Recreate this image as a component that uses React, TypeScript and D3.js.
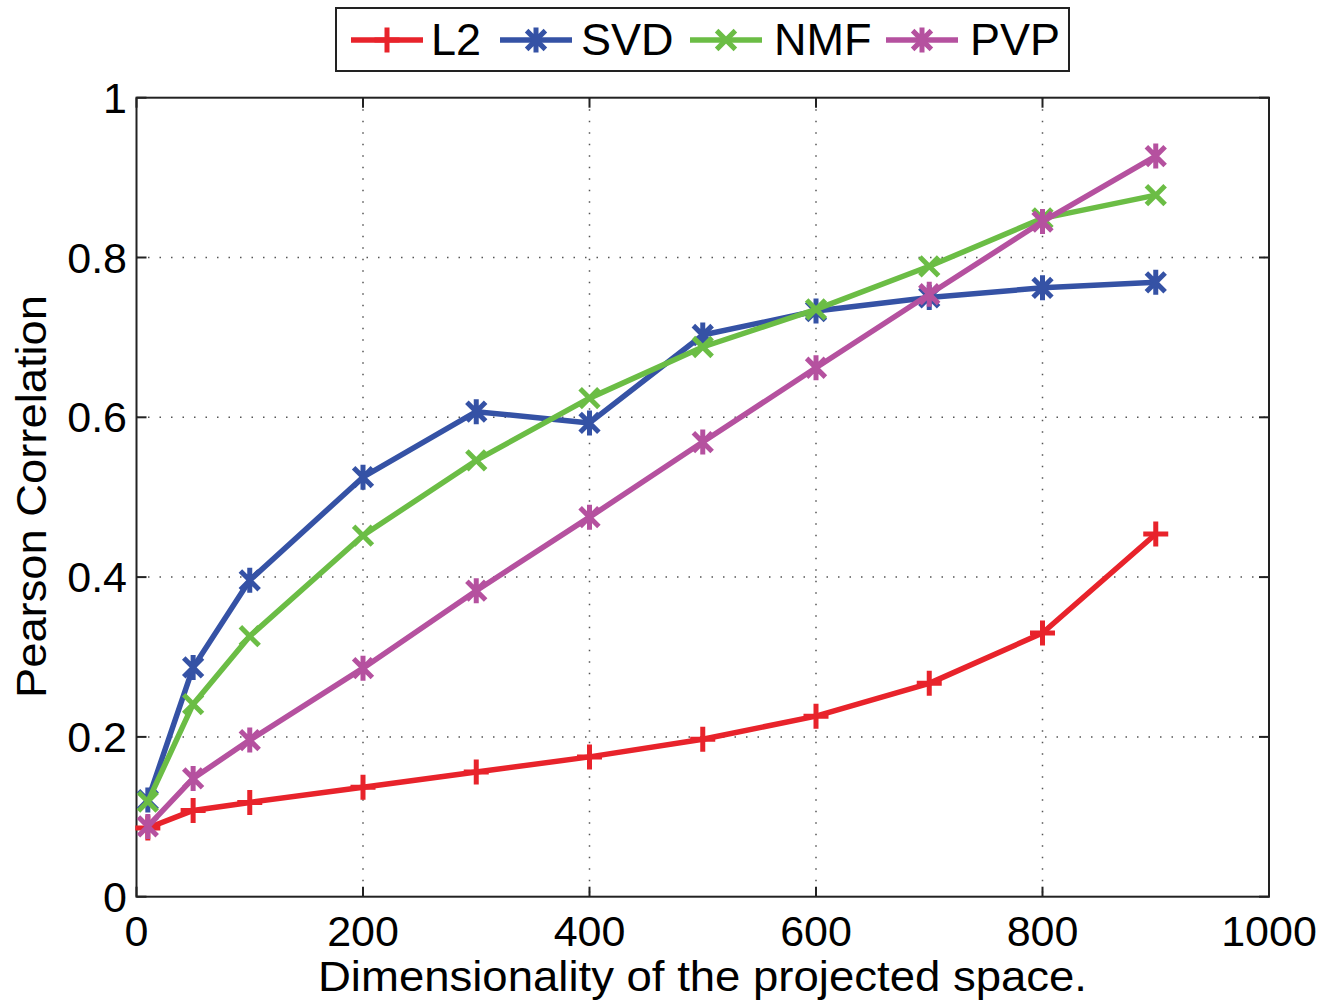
import * as React from 'react'
import * as d3 from 'd3'

const dims = [10, 50, 100, 200, 300, 400, 500, 600, 700, 800, 900]
const l2 = [0.086, 0.108, 0.118, 0.137, 0.156, 0.175, 0.197, 0.226, 0.267, 0.330, 0.454]
const svd = [0.121, 0.287, 0.396, 0.525, 0.607, 0.593, 0.703, 0.733, 0.750, 0.762, 0.769]
const nmf = [0.119, 0.241, 0.326, 0.452, 0.546, 0.624, 0.688, 0.735, 0.789, 0.849, 0.878]
const pvp = [0.088, 0.148, 0.196, 0.286, 0.383, 0.475, 0.569, 0.662, 0.754, 0.845, 0.927]

const xTicks = [0, 200, 400, 600, 800, 1000]
const yTicks = [0, 0.2, 0.4, 0.6, 0.8, 1]

const series = [
  { name: 'L2', values: l2, color: '#e8232b', marker: 'plus' },
  { name: 'SVD', values: svd, color: '#3552a5', marker: 'star' },
  { name: 'NMF', values: nmf, color: '#6bbd45', marker: 'cross' },
  { name: 'PVP', values: pvp, color: '#b5519f', marker: 'star' },
]

const font = 'Liberation Sans, Arial, Helvetica, sans-serif'

const Marker = ({ type, x, y, color, r = 12.5 }) => {
  const d = r * 0.75
  const plus = `M${x - r},${y}L${x + r},${y}M${x},${y - r}L${x},${y + r}`
  const cross = `M${x - d},${y - d}L${x + d},${y + d}M${x - d},${y + d}L${x + d},${y - d}`
  let path = plus
  if (type === 'cross') path = cross
  if (type === 'star') path = `M${x},${y - r}L${x},${y + r}` + cross
  return <path d={path} stroke={color} strokeWidth={5} fill="none" />
}

const App = () => {
  const width = 1326
  const height = 1000
  const left = 136.5, right = 1269, top = 97.7, bottom = 896.7

  const x = d3.scaleLinear().domain([0, 1000]).range([left, right])
  const y = d3.scaleLinear().domain([0, 1]).range([bottom, top])

  const line = d3.line<number>()
    .x((d, i) => x(dims[i]))
    .y(d => y(d))

  // legend slots: line start, text start
  const legendItems = [
    { lx: 351, tx: 431 },
    { lx: 500, tx: 581 },
    { lx: 690, tx: 774 },
    { lx: 886, tx: 970 },
  ]
  const legendLine = 72

  return (
    <svg width={width} height={height} style={{ position: 'absolute', left: 0, top: 0 }}>
      <rect width={width} height={height} fill="#fff" />
      {/* grid */}
      {xTicks.slice(1, -1).map(t => (
        <line key={'gx' + t} x1={x(t)} x2={x(t)} y1={top} y2={bottom}
          stroke="#555" strokeWidth={1.5} strokeDasharray="1.5,10" />
      ))}
      {yTicks.slice(1, -1).map(t => (
        <line key={'gy' + t} x1={left} x2={right} y1={y(t)} y2={y(t)}
          stroke="#555" strokeWidth={1.5} strokeDasharray="1.5,10" />
      ))}
      {/* ticks */}
      {xTicks.map(t => (
        <g key={'tx' + t}>
          <line x1={x(t)} x2={x(t)} y1={bottom} y2={bottom - 10} stroke="#222" strokeWidth={2} />
          <line x1={x(t)} x2={x(t)} y1={top} y2={top + 10} stroke="#222" strokeWidth={2} />
          <text x={x(t)} y={946} textAnchor="middle" fontFamily={font} fontSize={43} fill="#000">{t}</text>
        </g>
      ))}
      {yTicks.map(t => (
        <g key={'ty' + t}>
          <line x1={left} x2={left + 10} y1={y(t)} y2={y(t)} stroke="#222" strokeWidth={2} />
          <line x1={right} x2={right - 10} y1={y(t)} y2={y(t)} stroke="#222" strokeWidth={2} />
          <text x={127} y={y(t) + 15} textAnchor="end" fontFamily={font} fontSize={43} fill="#000">{t}</text>
        </g>
      ))}
      <rect x={left} y={top} width={right - left} height={bottom - top} fill="none" stroke="#222" strokeWidth={2} />
      {/* lines */}
      {series.map(s => (
        <g key={s.name}>
          <path d={line(s.values)} fill="none" stroke={s.color} strokeWidth={5.5} strokeLinejoin="round" />
          {s.values.map((v, i) => (
            <Marker key={i} type={s.marker} x={x(dims[i])} y={y(v)} color={s.color} />
          ))}
        </g>
      ))}
      {/* axis labels */}
      <text x={318} y={991} textLength={769} lengthAdjust="spacingAndGlyphs" fontFamily={font} fontSize={43} fill="#000">
        Dimensionality of the projected space.
      </text>
      <text transform="translate(46,698) rotate(-90)" textLength={403} lengthAdjust="spacingAndGlyphs" fontFamily={font} fontSize={43} fill="#000">
        Pearson Correlation
      </text>
      {/* legend */}
      <rect x={336} y={8} width={733} height={63} fill="#fff" stroke="#222" strokeWidth={2} />
      {series.map((s, i) => {
        const it = legendItems[i]
        return (
          <g key={'lg' + s.name}>
            <line x1={it.lx} x2={it.lx + legendLine} y1={40} y2={40} stroke={s.color} strokeWidth={5.5} />
            <Marker type={s.marker} x={it.lx + legendLine / 2} y={40} color={s.color} />
            <text x={it.tx} y={55} fontFamily={font} fontSize={45} fill="#000">{s.name}</text>
          </g>
        )
      })}
    </svg>
  )
}

export default App
